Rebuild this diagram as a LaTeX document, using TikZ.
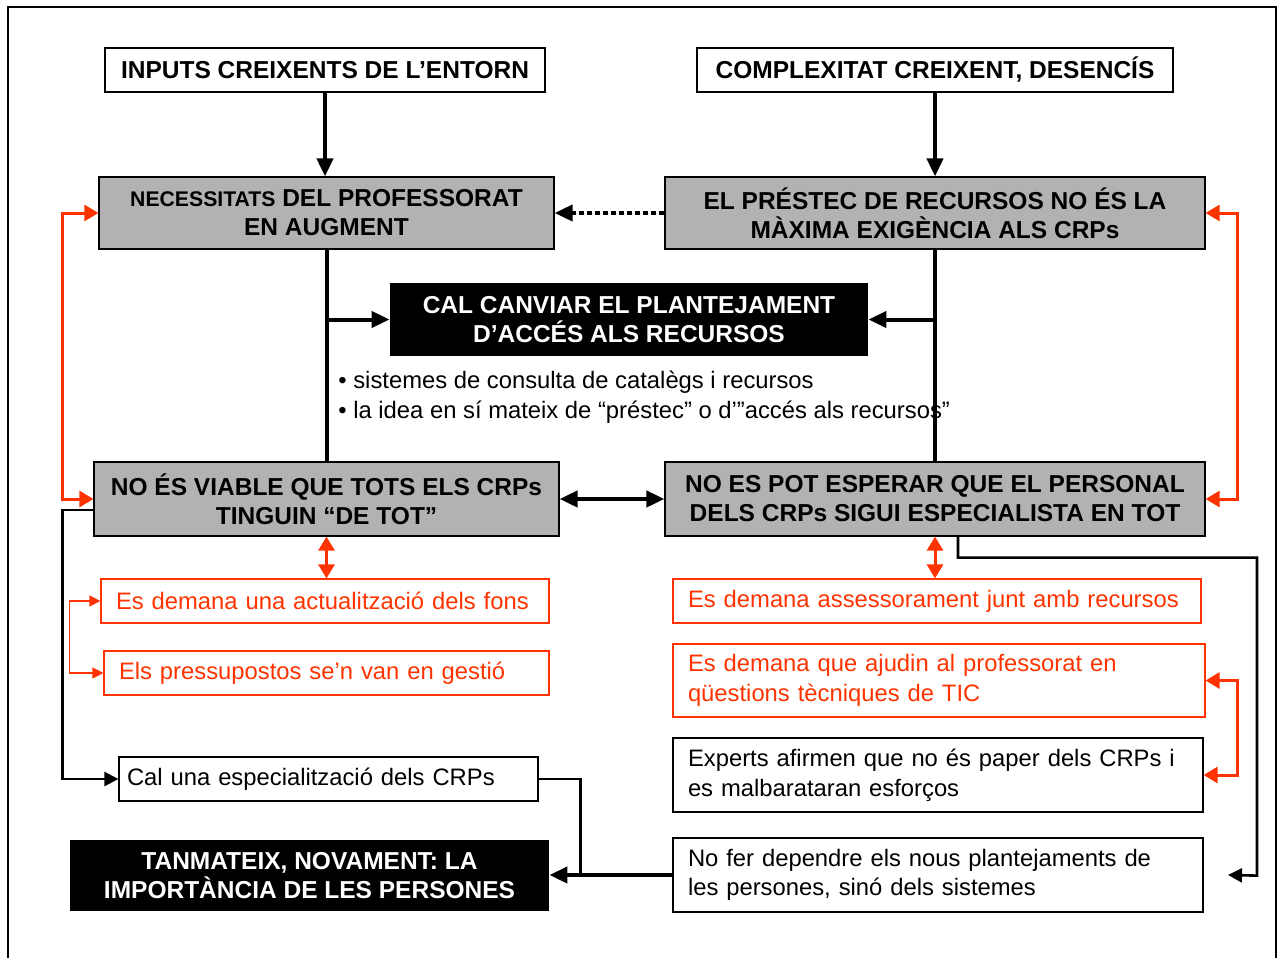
\documentclass[tikz,border=0pt]{standalone}
\usepackage{fontspec}
\setmainfont{Liberation Sans}
\usetikzlibrary{arrows.meta,calc}
\definecolor{boxgrey}{RGB}{178,178,178}
\definecolor{crpred}{RGB}{255,51,0}

\begin{document}
\begin{tikzpicture}[x=0.5pt,y=-0.5pt,>={Triangle[length=9pt,width=8pt]},
  every node/.style={font=\fontsize{11.9}{14.8}\selectfont},
  topbox/.style={draw,line width=0.6pt,fill=white,font=\fontsize{12.25}{14.5}\selectfont\bfseries,minimum height=22pt,inner sep=0pt},
  greybox/.style={draw,line width=0.6pt,fill=boxgrey,font=\fontsize{12.25}{14.5}\selectfont\bfseries,align=center,inner sep=0pt},
  blackbox/.style={fill=black,text=white,font=\fontsize{12.25}{14.5}\selectfont\bfseries,align=center,inner sep=0pt},
  redbox/.style={draw=crpred,line width=0.6pt,text=crpred,align=left,inner xsep=7.5pt,inner ysep=0pt},
  plainbox/.style={draw,line width=0.6pt,align=left,inner xsep=7.5pt,inner ysep=0pt},
  heavy/.style={line width=2pt},
  light/.style={line width=1.3pt,>={Triangle[length=7pt,width=7pt]}},
  redheavy/.style={crpred,line width=1.5pt,>={Triangle[length=7pt,width=8pt]}},
  redlight/.style={crpred,line width=0.7pt,>={Triangle[length=5.5pt,width=5.5pt]}},
  dotline/.style={line width=2pt,dash pattern=on 2.5pt off 1.5pt}]
  \useasboundingbox (0,0) rectangle (1284,958);
  \draw[line width=1pt] (8,958) -- (8,7) -- (1276,7) -- (1276,958);

  \node[topbox,minimum width=220pt] (inp) at (325,70) {INPUTS CREIXENTS DE L’ENTORN};
  \node[topbox,minimum width=238pt] (cpx) at (935,70) {COMPLEXITAT CREIXENT, DESENCÍS};
  \node[greybox,minimum width=227.5pt,minimum height=36pt] (nec) at (326.5,213)
    {{\fontsize{10.6}{14.5}\selectfont NECESSITATS} DEL PROFESSORAT\\EN AUGMENT};
  \node[greybox,minimum width=270pt,minimum height=36pt] (pre) at (935,213)
    {EL PRÉSTEC DE RECURSOS NO ÉS LA\\MÀXIMA EXIGÈNCIA ALS CRPs};
  \node[blackbox,minimum width=239pt,minimum height=36.5pt] (cal) at (629,319.5)
    {CAL CANVIAR EL PLANTEJAMENT\\D’ACCÉS ALS RECURSOS};
  \node[anchor=west,align=left,inner sep=0pt] (notes) at (338,397)
    {• sistemes de consulta de catalègs i recursos\\• la idea en sí mateix de “préstec” o d’”accés als recursos”};
  \node[greybox,minimum width=232.5pt,minimum height=37pt] (via) at (326.5,499)
    {NO ÉS VIABLE QUE TOTS ELS CRPs\\TINGUIN “DE TOT”};
  \node[greybox,minimum width=270pt,minimum height=37pt] (pot) at (935,499)
    {NO ES POT ESPERAR QUE EL PERSONAL\\DELS CRPs SIGUI ESPECIALISTA EN TOT};

  \node[redbox,text width=209pt,minimum height=22pt] (fons) at (325,601) {Es demana una actualització dels fons};
  \node[redbox,text width=207.5pt,minimum height=22pt] (pres) at (326.5,673) {Els pressupostos se’n van en gestió};
  \node[redbox,text width=249pt,minimum height=22pt] (ases) at (937,601) {Es demana assessorament junt amb recursos};
  \node[redbox,text width=251pt,minimum height=36.5pt] (ajud) at (939,680.5)
    {Es demana que ajudin al professorat en\\qüestions tècniques de TIC};
  \node[plainbox,text width=250pt,minimum height=37pt] (exp) at (938,775)
    {Experts afirmen que no és paper dels CRPs i\\es malbarataran esforços};
  \node[plainbox,text width=250pt,minimum height=37pt] (dep) at (938,875)
    {No fer dependre els nous plantejaments de\\les persones, sinó dels sistemes};
  \node[plainbox,inner xsep=4pt,text width=201.5pt,minimum height=22pt] (esp) at (328.5,779) {Cal una especialització dels CRPs};
  \node[blackbox,minimum width=239.5pt,minimum height=35.5pt] (tan) at (309.5,875.5)
    {TANMATEIX, NOVAMENT: LA\\IMPORTÀNCIA DE LES PERSONES};

  \draw[heavy,->] (inp.south) -- (inp.south |- nec.north);
  \draw[heavy,->] (cpx.south) -- (pre.north);
  \draw[dotline,->] (pre.west) -- (nec.east);
  \draw[heavy] (nec.south) -- (via.north);
  \draw[heavy,->] (nec.south |- cal.west) -- (cal.west);
  \draw[heavy] (pre.south) -- (pot.north);
  \draw[heavy,->] (pre.south |- cal.east) -- (cal.east);
  \draw[heavy,<->] (via.east) -- (pot.west);

  \draw[redheavy,<->] (nec.west) -- ++(-36,0) |- (via.west);
  \draw[redheavy,<->] (pre.east) -- ++(32,0) |- (pot.east);
  \draw[redheavy,<->] (via.south) -- (via.south |- fons.north);
  \draw[redheavy,<->] (pot.south) -- (pot.south |- ases.north);
  \draw[redlight,<->] (fons.west) -- ++(-31,0) |- (pres.west);
  \draw[redheavy,<->] (ajud.east) -- ++(32,0) |- (exp.east);

  \draw[light,->] ($(via.west)+(0,11)$) -- ++(-31,0) |- (esp.west);
  \draw[light] (esp.east) -- ++(42,0) coordinate (jn) -- (jn |- dep.west);
  \draw[heavy,->] (dep.west) -- (dep.west -| tan.east);
  \coordinate (depin) at (1228,875);
  \draw[light,->] ($(pot.south)+(23,0)$) -- ++(0,21) -| ++(299,318) -- (depin);
\end{tikzpicture}
\end{document}
